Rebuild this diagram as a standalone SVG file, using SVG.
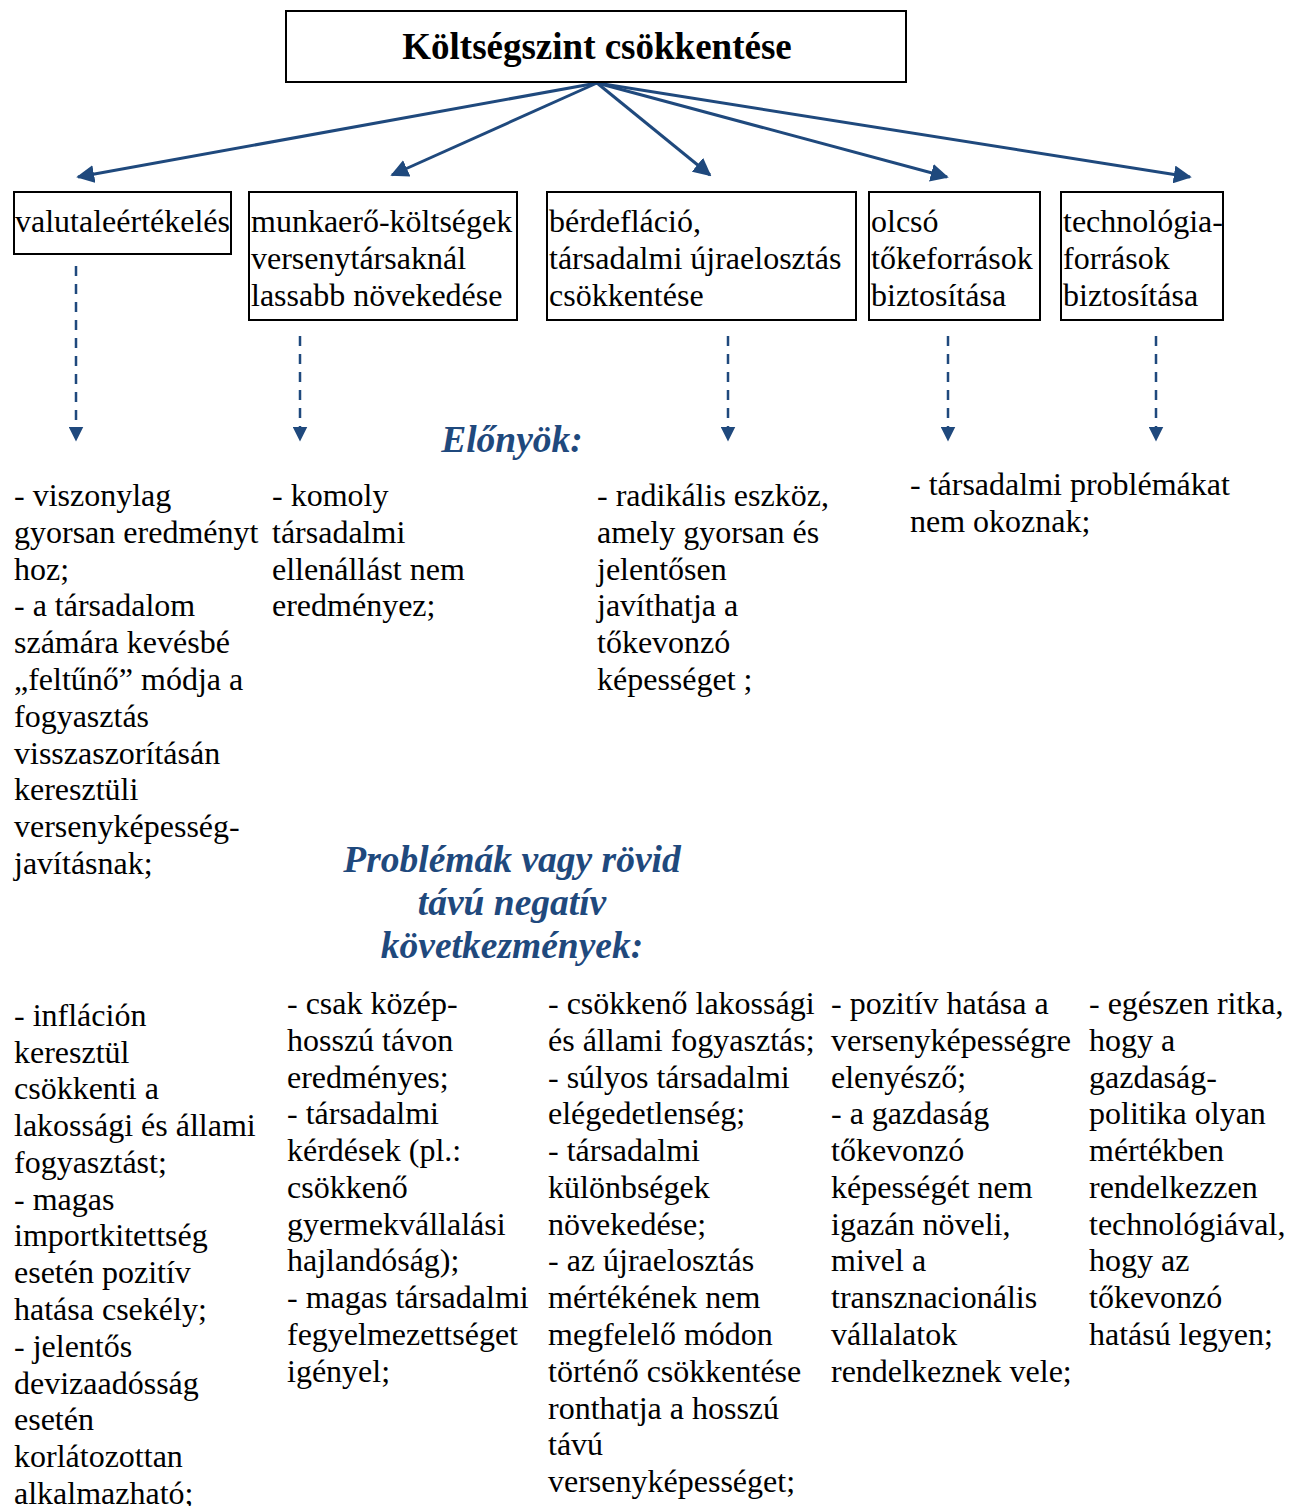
<svg xmlns="http://www.w3.org/2000/svg" width="1298" height="1506" viewBox="0 0 1298 1506">
<style>
.box{fill:#fff;stroke:#000;stroke-width:2}
.t{font-family:"Liberation Serif","Times New Roman",serif;font-size:32px;fill:#000}
.h{font-family:"Liberation Serif","Times New Roman",serif;font-weight:bold;font-style:italic;fill:#1F497D;text-anchor:middle;font-size:37.5px}
.c{stroke:#1F497D;stroke-width:3;fill:none}
.d{stroke:#1F497D;stroke-width:2.5;fill:none;stroke-dasharray:10 8}
</style>
<defs>
<marker id="ah" viewBox="0 0 10 10" refX="9" refY="5" markerWidth="6" markerHeight="6" markerUnits="strokeWidth" orient="auto">
<path d="M0,0 L10,5 L0,10 z" fill="#1F497D"/>
</marker>
<marker id="dh" viewBox="0 0 10 10" refX="9" refY="5" markerWidth="6" markerHeight="6" markerUnits="strokeWidth" orient="auto">
<path d="M0,0 L10,5 L0,10 z" fill="#1F497D"/>
</marker>
</defs>
<rect width="1298" height="1506" fill="#fff"/>
<g id="connectors">
<line class="c" x1="597" y1="83" x2="78" y2="177" marker-end="url(#ah)"/>
<line class="c" x1="597" y1="83" x2="392" y2="175" marker-end="url(#ah)"/>
<line class="c" x1="597" y1="83" x2="710" y2="175" marker-end="url(#ah)"/>
<line class="c" x1="597" y1="83" x2="947" y2="177" marker-end="url(#ah)"/>
<line class="c" x1="597" y1="83" x2="1190" y2="177" marker-end="url(#ah)"/>
<line class="d" x1="76" y1="266" x2="76" y2="440" marker-end="url(#dh)"/>
<line class="d" x1="300" y1="336" x2="300" y2="440" marker-end="url(#dh)"/>
<line class="d" x1="728" y1="336" x2="728" y2="440" marker-end="url(#dh)"/>
<line class="d" x1="948" y1="336" x2="948" y2="440" marker-end="url(#dh)"/>
<line class="d" x1="1156" y1="336" x2="1156" y2="440" marker-end="url(#dh)"/>
</g>
<g id="root">
<rect class="box" x="286" y="11" width="620" height="71"/>
<text x="597" y="59" text-anchor="middle" style="font-family:'Liberation Serif','Times New Roman',serif;font-weight:bold;font-size:37px">Költségszint csökkentése</text>
</g>
<g id="n1">
<rect class="box" x="14" y="192" width="217" height="62"/>
<text class="t" x="15" y="232">valutaleértékelés</text>
</g>
<g id="n2">
<rect class="box" x="249" y="192" width="268" height="128"/>
<text class="t" x="251" y="232">munkaerő-költségek</text>
<text class="t" x="251" y="269">versenytársaknál</text>
<text class="t" x="251" y="306">lassabb növekedése</text>
</g>
<g id="n3">
<rect class="box" x="547" y="192" width="309" height="128"/>
<text class="t" x="549" y="232">bérdefláció,</text>
<text class="t" x="549" y="269">társadalmi újraelosztás</text>
<text class="t" x="549" y="306">csökkentése</text>
</g>
<g id="n4">
<rect class="box" x="869" y="192" width="171" height="128"/>
<text class="t" x="871" y="232">olcsó</text>
<text class="t" x="871" y="269">tőkeforrások</text>
<text class="t" x="871" y="306">biztosítása</text>
</g>
<g id="n5">
<rect class="box" x="1061" y="192" width="162" height="128"/>
<text class="t" x="1063" y="232">technológia-</text>
<text class="t" x="1063" y="269">források</text>
<text class="t" x="1063" y="306">biztosítása</text>
</g>
<g id="elonyok">
<text class="h" x="512" y="452">Előnyök:</text>
</g>
<g id="adv1">
<text class="t" x="14" y="506">- viszonylag</text>
<text class="t" x="14" y="543">gyorsan eredményt</text>
<text class="t" x="14" y="580">hoz;</text>
<text class="t" x="14" y="616">- a társadalom</text>
<text class="t" x="14" y="653">számára kevésbé</text>
<text class="t" x="14" y="690">„feltűnő” módja a</text>
<text class="t" x="14" y="727">fogyasztás</text>
<text class="t" x="14" y="764">visszaszorításán</text>
<text class="t" x="14" y="800">keresztüli</text>
<text class="t" x="14" y="837">versenyképesség-</text>
<text class="t" x="14" y="874">javításnak;</text>
</g>
<g id="adv2">
<text class="t" x="272" y="506">- komoly</text>
<text class="t" x="272" y="543">társadalmi</text>
<text class="t" x="272" y="580">ellenállást nem</text>
<text class="t" x="272" y="616">eredményez;</text>
</g>
<g id="adv3">
<text class="t" x="597" y="506">- radikális eszköz,</text>
<text class="t" x="597" y="543">amely gyorsan és</text>
<text class="t" x="597" y="580">jelentősen</text>
<text class="t" x="597" y="616">javíthatja a</text>
<text class="t" x="597" y="653">tőkevonzó</text>
<text class="t" x="597" y="690">képességet ;</text>
</g>
<g id="adv4">
<text class="t" x="910" y="495">- társadalmi problémákat</text>
<text class="t" x="910" y="532">nem okoznak;</text>
</g>
<g id="problemak">
<text class="h" x="512" y="872">Problémák vagy rövid</text>
<text class="h" x="512" y="915">távú negatív</text>
<text class="h" x="512" y="958">következmények:</text>
</g>
<g id="prob1">
<text class="t" x="14" y="1026">- infláción</text>
<text class="t" x="14" y="1063">keresztül</text>
<text class="t" x="14" y="1099">csökkenti a</text>
<text class="t" x="14" y="1136">lakossági és állami</text>
<text class="t" x="14" y="1173">fogyasztást;</text>
<text class="t" x="14" y="1210">- magas</text>
<text class="t" x="14" y="1246">importkitettség</text>
<text class="t" x="14" y="1283">esetén pozitív</text>
<text class="t" x="14" y="1320">hatása csekély;</text>
<text class="t" x="14" y="1357">- jelentős</text>
<text class="t" x="14" y="1394">devizaadósság</text>
<text class="t" x="14" y="1430">esetén</text>
<text class="t" x="14" y="1467">korlátozottan</text>
<text class="t" x="14" y="1504">alkalmazható;</text>
</g>
<g id="prob2">
<text class="t" x="287" y="1014">- csak közép-</text>
<text class="t" x="287" y="1051">hosszú távon</text>
<text class="t" x="287" y="1088">eredményes;</text>
<text class="t" x="287" y="1124">- társadalmi</text>
<text class="t" x="287" y="1161">kérdések (pl.:</text>
<text class="t" x="287" y="1198">csökkenő</text>
<text class="t" x="287" y="1235">gyermekvállalási</text>
<text class="t" x="287" y="1271">hajlandóság);</text>
<text class="t" x="287" y="1308">- magas társadalmi</text>
<text class="t" x="287" y="1345">fegyelmezettséget</text>
<text class="t" x="287" y="1382">igényel;</text>
</g>
<g id="prob3">
<text class="t" x="548" y="1014">- csökkenő lakossági</text>
<text class="t" x="548" y="1051">és állami fogyasztás;</text>
<text class="t" x="548" y="1088">- súlyos társadalmi</text>
<text class="t" x="548" y="1124">elégedetlenség;</text>
<text class="t" x="548" y="1161">- társadalmi</text>
<text class="t" x="548" y="1198">különbségek</text>
<text class="t" x="548" y="1235">növekedése;</text>
<text class="t" x="548" y="1271">- az újraelosztás</text>
<text class="t" x="548" y="1308">mértékének nem</text>
<text class="t" x="548" y="1345">megfelelő módon</text>
<text class="t" x="548" y="1382">történő csökkentése</text>
<text class="t" x="548" y="1419">ronthatja a hosszú</text>
<text class="t" x="548" y="1455">távú</text>
<text class="t" x="548" y="1492">versenyképességet;</text>
</g>
<g id="prob4">
<text class="t" x="831" y="1014">- pozitív hatása a</text>
<text class="t" x="831" y="1051">versenyképességre</text>
<text class="t" x="831" y="1088">elenyésző;</text>
<text class="t" x="831" y="1124">- a gazdaság</text>
<text class="t" x="831" y="1161">tőkevonzó</text>
<text class="t" x="831" y="1198">képességét nem</text>
<text class="t" x="831" y="1235">igazán növeli,</text>
<text class="t" x="831" y="1271">mivel a</text>
<text class="t" x="831" y="1308">transznacionális</text>
<text class="t" x="831" y="1345">vállalatok</text>
<text class="t" x="831" y="1382">rendelkeznek vele;</text>
</g>
<g id="prob5">
<text class="t" x="1089" y="1014">- egészen ritka,</text>
<text class="t" x="1089" y="1051">hogy a</text>
<text class="t" x="1089" y="1088">gazdaság-</text>
<text class="t" x="1089" y="1124">politika olyan</text>
<text class="t" x="1089" y="1161">mértékben</text>
<text class="t" x="1089" y="1198">rendelkezzen</text>
<text class="t" x="1089" y="1235">technológiával,</text>
<text class="t" x="1089" y="1271">hogy az</text>
<text class="t" x="1089" y="1308">tőkevonzó</text>
<text class="t" x="1089" y="1345">hatású legyen;</text>
</g>
</svg>
